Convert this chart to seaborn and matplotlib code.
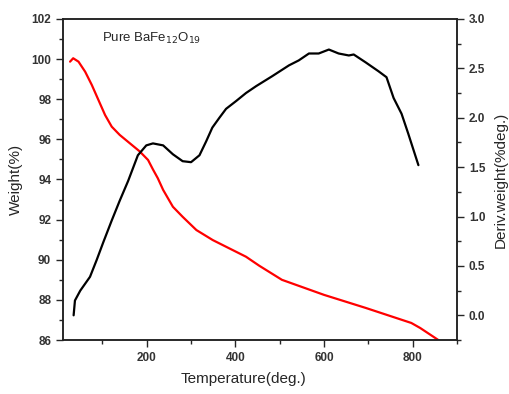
import numpy as np
import pandas as pd
import seaborn as sns
import matplotlib.pyplot as plt
from matplotlib.ticker import MultipleLocator

# TGA weight curve (left axis)
temp_w = [27, 34, 46, 61, 76, 91, 106, 121, 139, 162, 184, 203, 214, 225, 237,
          259, 281, 312, 349, 386, 424, 454, 505, 600, 694, 797, 817, 858, 875]
weight = [99.87, 100.04, 99.87, 99.37, 98.71, 97.96, 97.21, 96.63, 96.22, 95.80,
          95.40, 94.97, 94.50, 94.06, 93.48, 92.64, 92.14, 91.48, 90.98, 90.57,
          90.15, 89.7, 89.0, 88.25, 87.6, 86.85, 86.6, 86.0, 85.7]

# DTG derivative curve (right axis)
temp_d = [35, 38, 50, 72, 87, 102, 121, 139, 158, 180, 199, 214, 237, 259, 281,
          300, 319, 334, 348, 364, 379, 402, 424, 447, 483, 521, 543, 566, 588,
          611, 633, 656, 667, 694, 723, 741, 757, 775, 790, 813]
deriv = [0.0, 0.15, 0.25, 0.39, 0.56, 0.74, 0.96, 1.16, 1.36, 1.62, 1.72, 1.74,
         1.72, 1.63, 1.56, 1.55, 1.62, 1.76, 1.90, 2.00, 2.09, 2.17, 2.25, 2.32,
         2.42, 2.53, 2.58, 2.65, 2.65, 2.69, 2.65, 2.63, 2.64, 2.56, 2.47, 2.41,
         2.20, 2.04, 1.84, 1.52]

df_w = pd.DataFrame({'Temperature': temp_w, 'Weight': weight})
df_d = pd.DataFrame({'Temperature': temp_d, 'Deriv': deriv})

sns.set_style('ticks')
plt.rcParams['font.family'] = ['Liberation Sans', 'DejaVu Sans']

fig = plt.figure(figsize=(5.1, 3.94), dpi=100)
ax = fig.add_axes([0.1235, 0.137, 0.7725, 0.815])
ax2 = ax.twinx()

sns.lineplot(data=df_w, x='Temperature', y='Weight', color='red', linewidth=1.6, ax=ax)
sns.lineplot(data=df_d, x='Temperature', y='Deriv', color='black', linewidth=1.6, ax=ax2)

ax.set_xlim(11, 900)
ax.set_ylim(86, 102)
ax2.set_ylim(-0.25, 3.0)

ax.xaxis.set_major_locator(MultipleLocator(200))
ax.xaxis.set_minor_locator(MultipleLocator(100))
ax.yaxis.set_major_locator(MultipleLocator(2))
ax.yaxis.set_minor_locator(MultipleLocator(1))
ax2.yaxis.set_major_locator(MultipleLocator(0.5))
ax2.yaxis.set_minor_locator(MultipleLocator(0.25))
ax2.yaxis.set_major_formatter(plt.FormatStrFormatter('%.1f'))

for a in (ax, ax2):
    a.tick_params(which='major', length=5, width=1, labelsize=8.5, labelcolor='#333333')
    a.tick_params(which='minor', length=3, width=1)
    for s in a.spines.values():
        s.set_linewidth(1.1)
        s.set_color('#222222')
    for lab in a.get_xticklabels() + a.get_yticklabels():
        lab.set_fontweight('bold')

ax.set_xlabel('Temperature(deg.)', fontsize=11, labelpad=10)
ax.xaxis.set_label_coords(0.457, -0.1)
ax.set_ylabel('Weight(%)', fontsize=11, labelpad=6)
ax2.set_ylabel('Deriv.weight(%deg.)', fontsize=11, labelpad=6)

ax.text(0.1, 0.94, 'Pure BaFe$_{12}$O$_{19}$', transform=ax.transAxes, fontsize=9.5,
        ha='left', va='center')

fig.savefig('out.png', dpi=100)
